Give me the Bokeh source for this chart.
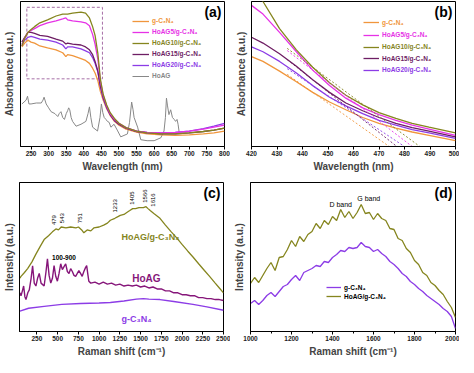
import numpy as np
from bokeh.plotting import figure
from bokeh.layouts import column, row
from bokeh.models import FixedTicker, Legend, LegendItem, Label
from bokeh.core.properties import value
from bokeh.embed import file_html
from bokeh.resources import INLINE

FONT = "Liberation Sans"

# ---------------- Panel (a): UV-vis absorbance ----------------
wl_a = [224, 232, 241, 250, 260, 275, 297, 321, 340, 349, 354, 368, 392, 405, 416, 425, 432,
        440, 447, 455, 465, 475, 487, 500, 520, 550, 580, 620, 660, 700, 740, 770, 800]
abs_gcn = [103, 107, 110, 108, 107, 104, 102, 100, 97, 93, 95, 94, 91, 89, 86, 81, 76,
           68, 57, 48, 39, 32, 26, 22, 18, 15, 13, 12, 11.5, 12, 13, 14, 16]
abs_h5 = [104, 112, 118, 120, 122, 125, 128, 130, 132, 133, 131, 130, 129, 128, 125, 116, 106,
          90, 68, 53, 42, 34, 28, 24, 19.5, 16, 14.5, 14, 14.5, 16, 18, 20, 22]
abs_h10 = [104, 112, 118, 121, 124, 128, 131, 135, 137, 137, 137, 138, 139, 138, 133, 124, 115,
           96, 70, 54, 43, 35, 29, 24, 19.5, 16, 14, 13, 13, 14, 15.5, 17, 19]
abs_h15 = [108, 113, 118, 118, 117, 115, 114, 111, 109, 106, 107, 106, 105, 103, 100, 95, 88,
           78, 63, 51, 41, 33, 27, 23, 19, 15.5, 14, 13, 13, 14, 15.5, 17, 19]
abs_h20 = [106, 110, 113, 114, 113, 111, 110, 108, 105, 101, 103, 103, 101, 99, 97, 92, 86,
           77, 62, 50, 40, 33, 27, 23, 19, 16, 14.5, 14, 14.5, 16, 18.5, 21, 24]
wl_hoag = [224, 230, 236, 240, 244, 250, 265, 279, 284, 287, 293, 300, 307, 318, 326, 330, 335,
           340, 345, 350, 354, 357, 360, 364, 368, 378, 392, 406, 412, 416, 420, 425, 439, 446,
           450, 454, 458, 463, 467, 472, 477, 486, 495, 505, 524, 530, 536, 540, 543, 553, 562,
           580, 600, 619, 628, 632, 635, 638, 642, 647, 652, 657, 661, 665, 668, 671]
abs_hoag = [44, 46, 48, 52, 44, 44, 45, 45, 48, 51, 44, 40, 36, 34, 31, 34, 36,
            30, 28, 34, 37, 40, 38, 30, 26, 21, 23, 26, 34, 41, 30, 20, 16, 30,
            44, 35, 30, 28, 26, 25, 20, 23, 17, 10, 13, 25, 46, 38, 30, 20, 7,
            6, 6, 9, 16, 30, 50, 42, 33, 38, 30, 28, 26, 28, 23, 15]
zoom_box_x = [238, 453]
zoom_box_y = [70, 144]

# ---------------- Panel (b): band-edge zoom ----------------
wl_b = [420, 424.5, 431, 437.6, 444, 450.6, 457, 463.6, 470, 476.6, 483, 489.6, 500]
b_h10 = [165, 150, 122, 100, 82, 66, 53, 43, 35, 29, 24, 20, 14]
b_h5 = [146, 137, 118, 98, 79, 63, 50, 40, 33, 27, 22, 18, 11.5]
b_h15 = [113, 107, 96, 83, 69, 56, 45, 37, 30, 24, 19.5, 16, 10]
b_h20 = [103, 98, 88, 76, 63, 51, 42, 34, 27, 22, 17.5, 14, 8.5]
b_gcn = [93, 88, 78, 67, 56, 46, 38, 30, 24, 19, 15, 11.5, 6]
tangent_x = 444
band_edge = [474, 480, 477, 483, 486]   # g-C3N4, HoAG20, HoAG15, HoAG5, HoAG10

# ---------------- Panel (c): Raman ----------------
rs_comp = [45, 58, 100, 138, 190, 238, 290, 337, 390, 437, 479, 510, 543, 600, 657, 720, 751,
           790, 816, 856, 900, 936, 1000, 1055, 1100, 1136, 1190, 1233, 1255, 1300, 1334, 1370,
           1405, 1440, 1480, 1534, 1566, 1590, 1616, 1660, 1734, 1800, 1870, 1933, 2000, 2070,
           2132, 2200, 2270, 2332, 2400, 2450, 2500]
int_comp = [55, 57, 61, 65, 72, 80, 88, 95, 99, 103, 106, 105, 108, 107, 108, 107, 108,
            105, 102, 105, 104, 107, 108, 110, 112, 115, 117, 119, 120, 121, 123, 125,
            127, 127, 128, 128, 129, 127, 125, 122, 117, 110, 103, 97, 90, 83,
            77, 70, 63, 57, 50, 45, 40]
rs_hoag = [45, 58, 75, 90, 105, 118, 140, 158, 180, 198, 218, 238, 258, 278, 300, 337, 360, 377,
           397, 417, 437, 457, 477, 497, 517, 537, 557, 577, 597, 617, 637, 657, 677, 697, 717,
           737, 756, 776, 796, 816, 836, 850, 866, 876, 900, 950, 1000, 1050, 1100, 1150, 1200,
           1250, 1300, 1350, 1400, 1450, 1500, 1550, 1600, 1650, 1700, 1750, 1800, 1850, 1900,
           1950, 2000, 2050, 2100, 2150, 2200, 2250, 2300, 2350, 2400, 2450, 2500]
int_hoag = [40, 37, 42, 47, 36, 33, 40, 43, 55, 68, 50, 47, 55, 60, 50, 47, 62, 75,
            58, 50, 55, 68, 57, 52, 60, 70, 64, 67, 70, 62, 60, 65, 62, 58, 57,
            60, 63, 60, 57, 62, 66, 68, 58, 52, 50, 51, 49, 51, 49, 50, 48,
            49, 47, 48, 47, 48, 46, 47, 45, 46, 44, 44, 42, 42, 40,
            40, 38, 38, 37, 37, 35, 35, 34, 34, 33, 33, 32]
rs_gcn = [45, 150, 337, 550, 777, 1000, 1136, 1300, 1450, 1534, 1600, 1734, 1900, 2132, 2300, 2500]
int_gcn = [21, 24, 26, 28, 29, 29.5, 30, 31.5, 33.5, 34, 33.5, 33, 31, 28, 25.5, 22]
peaks_c = [479, 543, 751, 1233, 1405, 1566, 1616]
peak_label_x = [457, 557, 768, 1195, 1394, 1554, 1654]

# ---------------- Panel (d): Raman D/G region ----------------
rs_d = [1000, 1020, 1040, 1060, 1080, 1100, 1120, 1140, 1160, 1180, 1200, 1220, 1240, 1260,
        1280, 1300, 1320, 1340, 1360, 1380, 1400, 1420, 1440, 1460, 1480, 1500, 1520, 1540,
        1560, 1580, 1600, 1620, 1640, 1660, 1680, 1700, 1720, 1740, 1760, 1780, 1800, 1820,
        1840, 1860, 1880, 1900, 1920, 1940, 1960, 1980, 2000]
d_comp = [48, 54, 49, 56, 63, 69, 61, 74, 75, 82, 91, 85, 95, 90,
          97, 100, 108, 103, 111, 107, 115, 111, 122, 114, 120, 113, 119, 127,
          118, 119, 112, 118, 113, 111, 103, 102, 93, 91, 83, 79, 71, 67,
          59, 56, 49, 46, 41, 37, 30, 24, 14]
d_gcn = [28, 31, 27, 31, 36, 39, 35, 40, 45, 47, 52, 56, 51, 59,
         61, 63, 66, 65, 70, 69, 74, 77, 81, 80, 84, 83, 84, 89,
         85, 84, 80, 82, 78, 75, 70, 67, 63, 58, 55, 50, 47, 43,
         40, 36, 33, 30, 27, 23, 20, 15, 3]
bands_txt = ["D band", "G band"]
bands_x = [1440, 1577]
bands_y = [127, 133]

C_GCN = "#F0963C"
C_H5 = "#E632E6"
C_H10 = "#85851E"
C_H15 = "#6E1E64"
C_H20 = "#8C3CE6"
C_HOAG = "#888888"
C_HOAG_R = "#86167A"
C_GCN_R = "#8C3CE6"


def base_fig(xr, yr, fw, fh, bl, br, bt, bb, xlabel, ylabel, ystand, xticks, minor=None):
    p = figure(frame_width=fw, frame_height=fh, x_range=xr, y_range=yr, output_backend="svg",
               toolbar_location=None, min_border_left=bl, min_border_right=br,
               min_border_top=bt, min_border_bottom=bb)
    p.grid.visible = False
    p.outline_line_color = "black"
    p.outline_line_width = 1
    p.outline_line_alpha = 1
    xa = p.xaxis[0]
    xa.ticker = FixedTicker(ticks=xticks, minor_ticks=minor or [])
    xa.axis_label = xlabel
    xa.axis_label_text_font = FONT
    xa.axis_label_text_font_style = "bold"
    xa.axis_label_text_font_size = "10px"
    xa.axis_label_standoff = 2
    xa.major_label_text_font = FONT
    xa.major_label_text_font_style = "bold"
    xa.major_label_text_font_size = "6.5px"
    xa.major_label_text_color = "#222222"
    xa.major_label_standoff = 1
    xa.major_tick_in = 0
    xa.major_tick_out = 3
    xa.minor_tick_in = 0
    xa.minor_tick_out = 2
    xa.axis_line_color = "black"
    ya = p.yaxis[0]
    ya.ticker = FixedTicker(ticks=[])
    ya.major_tick_out = 0
    ya.major_tick_in = 0
    ya.minor_tick_out = 0
    ya.minor_tick_in = 0
    ya.major_label_standoff = 0
    ya.axis_label = ylabel
    ya.axis_label_text_font = FONT
    ya.axis_label_text_font_style = "bold"
    ya.axis_label_text_font_size = "10px"
    ya.axis_label_standoff = ystand
    return p


def panel_label(p, txt, x, y):
    p.add_layout(Label(x=x, y=y, x_offset=-3, y_offset=-2, text=txt, text_align="right",
                       text_baseline="top", text_font=FONT, text_font_style="bold",
                       text_font_size="14px", text_color="black"))


def single_legend(p, r, label, color, x, y, gw):
    lg = Legend(items=[LegendItem(label=label, renderers=[r])], location=(x, y),
                orientation="vertical", border_line_color=None, background_fill_alpha=0,
                padding=0, margin=0, spacing=0, glyph_width=gw, glyph_height=8,
                label_height=8, label_standoff=3, label_text_font=FONT,
                label_text_font_style="bold", label_text_font_size="6.5px",
                label_text_color=color)
    p.add_layout(lg)


# ----- (a) -----
FH1 = 145
pa = base_fig((220, 800), (0, 150), 204, FH1, 19, 6, 1, 33, "Wavelength (nm)",
              "Absorbance (a.u.)", 6, list(range(250, 801, 50)))
pa.quad(left=zoom_box_x[0], right=zoom_box_x[1], bottom=zoom_box_y[0], top=zoom_box_y[1],
        fill_alpha=0, line_color="#A66FA6", line_dash="3 2", line_width=1)
ra_hoag = pa.line(wl_hoag, abs_hoag, line_color=C_HOAG, line_width=1)
ra = {}
for key, ys, col in [("g", abs_gcn, C_GCN), ("h20", abs_h20, C_H20), ("h15", abs_h15, C_H15),
                     ("h5", abs_h5, C_H5), ("h10", abs_h10, C_H10)]:
    ra[key] = pa.line(wl_a, ys, line_color=col, line_width=1.3)
rows_a = [19.5, 30.5, 41.5, 52.5, 63.5, 74.5]
leg_a = [(ra["g"], "g-C\u2083N\u2084", C_GCN), (ra["h5"], "HoAG5/g-C\u2083N\u2084", C_H5),
         (ra["h10"], "HoAG10/g-C\u2083N\u2084", C_H10), (ra["h15"], "HoAG15/g-C\u2083N\u2084", C_H15),
         (ra["h20"], "HoAG20/g-C\u2083N\u2084", C_H20), (ra_hoag, "HoAG", C_HOAG)]
for (r, lab, col), cy in zip(leg_a, rows_a):
    single_legend(pa, r, lab, col, 112, FH1 - cy - 4, 17)
panel_label(pa, "(a)", 800, 150)

# ----- (b) -----
pb = base_fig((420, 500), (0, 150), 204, FH1, 21, 4, 1, 33, "Wavelength (nm)",
              "Absorbance (a.u.)", 5, list(range(420, 501, 10)))
rb = {}
curves_b = [("g", b_gcn, C_GCN), ("h20", b_h20, C_H20), ("h15", b_h15, C_H15),
            ("h5", b_h5, C_H5), ("h10", b_h10, C_H10)]
for key, ys, col in curves_b:
    rb[key] = pb.line(wl_b, ys, line_color=col, line_width=1.3)
for (key, ys, col), xi in zip(curves_b, band_edge):
    yt = float(np.interp(tangent_x, wl_b, ys))
    slope = yt / (xi - tangent_x)
    x0 = tangent_x - 10
    pb.line([x0, xi], [yt + slope * 10, 0], line_color=col, line_dash="2 2", line_width=0.9)
rows_b = [21, 33.5, 45.5, 57, 68.5]
leg_b = [(rb["g"], "g-C\u2083N\u2084", C_GCN), (rb["h5"], "HoAG5/g-C\u2083N\u2084", C_H5),
         (rb["h10"], "HoAG10/g-C\u2083N\u2084", C_H10), (rb["h15"], "HoAG15/g-C\u2083N\u2084", C_H15),
         (rb["h20"], "HoAG20/g-C\u2083N\u2084", C_H20)]
for (r, lab, col), cy in zip(leg_b, rows_b):
    single_legend(pb, r, lab, col, 112, FH1 - cy - 4, 16)
panel_label(pb, "(b)", 500, 150)

# ----- (c) -----
FH2 = 149
pc = base_fig((40, 2500), (0, 154), 204, FH2, 18, 7, 3, 26, "Raman shift (cm\u207b\u00b9)",
              "Intensity (a.u.)", 5, list(range(250, 2501, 250)))
pc.line(rs_gcn, int_gcn, line_color=C_GCN_R, line_width=1.4)
pc.line(rs_hoag, int_hoag, line_color=C_HOAG_R, line_width=1.4)
pc.line(rs_comp, int_comp, line_color=C_H10, line_width=1.3)
pk_y = np.interp(peaks_c, rs_comp, int_comp) + 4
pc.text(x=peak_label_x, y=list(pk_y), text=[str(v) for v in peaks_c], angle=np.pi / 2,
        text_align="left", text_baseline="middle", text_font=value(FONT),
        text_font_size="6px", text_color="black")
for txt, x, y, col, fs in [("HoAG/g-C\u2083N\u2084", 1271, 98, C_H10, "9px"),
                           ("HoAG", 1400, 55, C_HOAG_R, "10px"),
                           ("g-C\u2083N\u2084", 1271, 13, C_GCN_R, "9px"),
                           ("100-900", 433, 77, "black", "6.5px")]:
    pc.add_layout(Label(x=x, y=y, text=txt, text_align="left", text_baseline="middle",
                        text_font=FONT, text_font_style="bold", text_font_size=fs,
                        text_color=col))
panel_label(pc, "(c)", 2500, 154)

# ----- (d) -----
pd = base_fig((1000, 2000), (0, 149), 205, FH2, 20, 4, 3, 26, "Raman shift (cm\u207b\u00b9)",
              "Intensity (a.u.)", 6, list(range(1000, 2001, 200)),
              list(range(1100, 2000, 200)))
rd_g = pd.line(rs_d, d_gcn, line_color=C_GCN_R, line_width=1.3)
rd_c = pd.line(rs_d, d_comp, line_color=C_H10, line_width=1.3)
pd.text(x=bands_x, y=bands_y, text=bands_txt, text_align="center",
        text_baseline="middle", text_font=value(FONT), text_font_size="7px",
        text_color="black")
lg_d = Legend(items=[LegendItem(label="g-C\u2083N\u2084", renderers=[rd_g]),
                     LegendItem(label="HoAG/g-C\u2083N\u2084", renderers=[rd_c])],
              location=(76, FH2 - 114 - 4), orientation="vertical", border_line_color=None,
              background_fill_alpha=0, padding=0, margin=0, spacing=1, glyph_width=15,
              glyph_height=8, label_height=8, label_standoff=3, label_text_font=FONT,
              label_text_font_style="bold", label_text_font_size="6.5px",
              label_text_color="black")
pd.add_layout(lg_d)
panel_label(pd, "(d)", 2000, 149)

layout = column(row(pa, pb), row(pc, pd))
open("out.html", "w").write(file_html(layout, INLINE))
